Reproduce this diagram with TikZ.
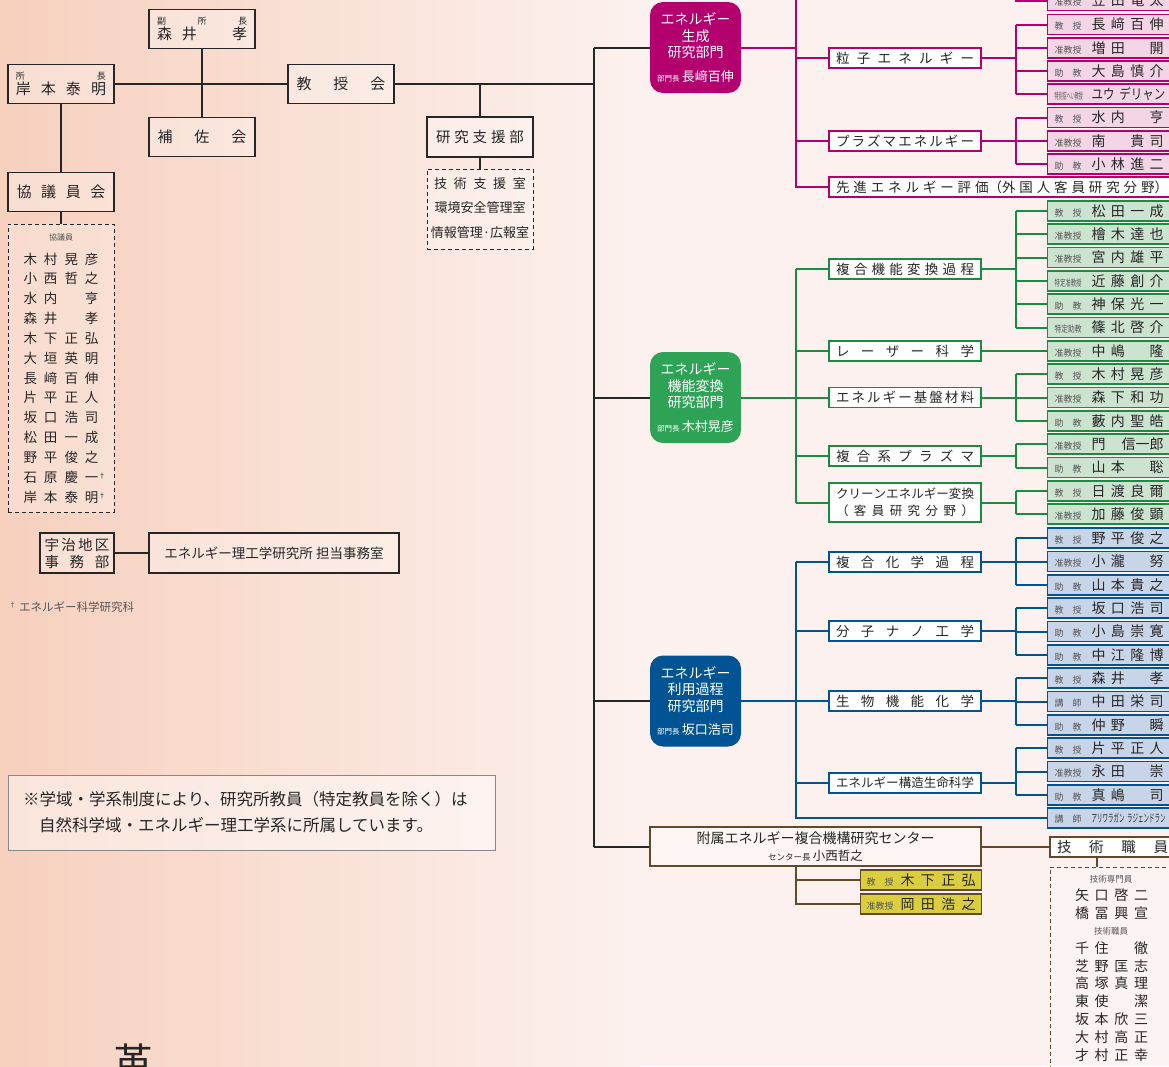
\documentclass[tikz,border=0pt]{standalone}
\usepackage{fontspec}
\setmainfont{Noto Sans CJK JP}
\usepackage{graphicx}
\definecolor{ink}{RGB}{38,38,38}
\definecolor{rg}{RGB}{85,85,85}
\definecolor{mg}{RGB}{180,0,110}
\definecolor{mgf}{RGB}{243,213,229}
\definecolor{gr}{RGB}{25,140,65}
\definecolor{grf}{RGB}{203,227,207}
\definecolor{grd}{RGB}{46,163,86}
\definecolor{bl}{RGB}{0,84,148}
\definecolor{blf}{RGB}{200,212,232}
\definecolor{br}{RGB}{100,72,42}
\definecolor{ye}{RGB}{218,205,62}
\definecolor{bgL}{RGB}{247,208,190}
\definecolor{bgR}{RGB}{252,241,238}
\newcommand{\spr}[2]{\makebox[#1][s]{\spaceskip=0pt plus 1fil\relax #2}}
\newcommand{\rolefont}{\fontsize{9}{9}\selectfont\color{rg}}
\newcommand{\namefont}{\fontsize{14}{14}\selectfont\color{ink}}
\newcommand{\member}[5]{\node[mbox=#3] (#1) at (1047,#2) {\makebox[128pt][l]{\hspace*{7pt}\makebox[30pt][l]{\rolefont #4}\hspace*{7pt}{\namefont\spr{72pt}{#5}}}};}
\tikzset{
  mbox/.style={draw=#1, fill=#1f, line width=1.2pt, inner sep=0pt, minimum height=20pt, anchor=west},
  ybox/.style={draw=br, fill=ye, line width=1.2pt, inner sep=0pt, minimum height=20pt, anchor=west},
  sbox/.style={draw=#1, fill=white, line width=1.6pt, inner sep=0pt, minimum width=152pt, minimum height=20pt, font=\fontsize{13.5}{16}\selectfont, text=ink},
  cline/.style={draw=#1, line width=2pt},
  dept/.style={fill=#1, rounded corners=13pt, minimum width=91pt, minimum height=91pt, inner sep=0pt, text=white, align=center, font=\fontsize{14}{16.5}\selectfont},
  bbox/.style={draw=ink, line width=1.8pt, fill=white, fill opacity=0.3, text opacity=1, inner sep=0pt, minimum width=106pt, minimum height=39pt, text=ink, align=center},
  dbox/.style={draw=#1, dash pattern=on 4pt off 3pt, line width=1pt, fill=white, fill opacity=0.25, inner sep=0pt},
  txt/.style={inner sep=0pt, text=ink},
}
\begin{document}
\begin{tikzpicture}[x=1pt,y=-1pt]
\useasboundingbox (0,0) rectangle (1169,1066);
% background
\shade[left color=bgL, right color=bgR] (0,0) rectangle (640,1066);
\fill[bgR] (640,0) rectangle (1169,1066);
% bus coordinates
\coordinate (T) at (594,0);
\coordinate (B1) at (796,0);
\coordinate (B2) at (1016,0);
\coordinate (mgtop) at (796,-30);
\coordinate (gx) at (1097,0);

% ---------- top-left ----------
\node[bbox, font=\fontsize{12}{15}\selectfont] (fuku) at (202,29) {{\fontsize{9}{10}\selectfont\spr{90pt}{副 所 長}}\\{\fontsize{15}{16}\selectfont\spr{90pt}{森 井 　 孝}}};
\node[bbox, font=\fontsize{12}{15}\selectfont] (shocho) at (61,84) {{\fontsize{9}{10}\selectfont\spr{90pt}{所 長}}\\{\fontsize{15}{16}\selectfont\spr{90pt}{岸 本 泰 明}}};
\node[bbox, font=\fontsize{15}{16}\selectfont] (kyojukai) at (341,84) {\spr{89pt}{教 授 会}};
\node[bbox, font=\fontsize{15}{16}\selectfont] (hosakai) at (202,137) {\spr{89pt}{補 佐 会}};
\node[bbox, font=\fontsize{15}{16}\selectfont] (kyogiinkai) at (61,192) {\spr{89pt}{協 議 員 会}};
\node[dbox=ink, minimum width=106pt, minimum height=288pt] (kglist) at (61,368) {};
\node[txt, font=\fontsize{8}{8}\selectfont, text=rg] (kghead) at (61,237) {協議員};
\foreach \n [count=\i from 0] in {木 村 晃 彦, 小 西 哲 之, 水 内 　 亨, 森 井 　 孝, 木 下 正 弘, 大 垣 英 明, 長 﨑 百 伸, 片 平 正 人, 坂 口 浩 司, 松 田 一 成, 野 平 俊 之, 石 原 慶 一\rlap{\raisebox{4pt}{\fontsize{7}{7}\selectfont †}}, 岸 本 泰 明\rlap{\raisebox{4pt}{\fontsize{7}{7}\selectfont †}}}
  \node[txt, font=\fontsize{13.5}{14}\selectfont] (kg\i) at (61,{259+19.83*\i}) {\spr{75pt}{\n}};

\node[bbox, minimum height=40pt, font=\fontsize{14.5}{16}\selectfont] (shien) at (480,137) {\spr{88pt}{研 究 支 援 部}};
\node[dbox=ink, minimum width=106pt, minimum height=80pt] (shienlist) at (480,209) {};
\node[txt, font=\fontsize{13}{14}\selectfont] (s1) at (480,184) {\spr{92pt}{技 術 支 援 室}};
\node[txt, font=\fontsize{13}{14}\selectfont] (s2) at (480,208) {環境安全管理室};
\node[txt, font=\fontsize{13}{14}\selectfont] (s3) at (480,233) {情報管理·広報室};

\node[bbox, minimum width=74pt, minimum height=40pt, font=\fontsize{14.5}{17}\selectfont] (uji) at (77,553) {\spr{65pt}{宇 治 地 区}\\\spr{65pt}{事 務 部}};
\node[bbox, minimum width=250pt, minimum height=40pt, font=\fontsize{13.5}{15}\selectfont] (tanto) at (274,553) {エネルギー理工学研究所 担当事務室};
\node[txt, anchor=west, text=rg] (fn) at (9,607) {\raisebox{4pt}{\fontsize{7}{7}\selectfont †}\hspace{3pt}{\fontsize{11.5}{12}\selectfont エネルギー科学研究科}};

\node[draw=rg!70, line width=1pt, fill=white, fill opacity=0.45, inner sep=0pt, minimum width=487pt, minimum height=75pt] (note) at (251.5,813) {};
\node[txt, anchor=west, font=\fontsize{16.5}{17}\selectfont] (n1) at (23,799) {※学域・学系制度により、研究所教員（特定教員を除く）は};
\node[txt, anchor=west, font=\fontsize{16.5}{17}\selectfont] (n2) at (39,825) {自然科学域・エネルギー理工学系に所属しています。};
\node[txt, font=\fontsize{40}{40}\selectfont] (kaku) at (133,1062) {革};

% ---------- departments ----------
\node[dept=mg] (gen) at (695.5,47.5) {エネルギー\\生成\\研究部門\\[7pt]{\fontsize{7.5}{8}\selectfont 部門長}\,{\fontsize{13}{14}\selectfont 長﨑百伸}};
\node[dept=grd] (kino) at (695.5,397.5) {エネルギー\\機能変換\\研究部門\\[7pt]{\fontsize{7.5}{8}\selectfont 部門長}\,{\fontsize{13}{14}\selectfont 木村晃彦}};
\node[dept=bl] (riyo) at (695.5,701) {エネルギー\\利用過程\\研究部門\\[7pt]{\fontsize{7.5}{8}\selectfont 部門長}\,{\fontsize{13}{14}\selectfont 坂口浩司}};

% ---------- sub labels ----------
\node[sbox=mg] (ryushi) at (905,58) {\spr{138pt}{粒 子 エ ネ ル ギ ー}};
\node[sbox=mg] (plasmaE) at (905,141) {\spr{138pt}{プ ラ ズ マ エ ネ ル ギ ー}};
\node[sbox=mg, minimum width=346pt] (senshin) at (1002,187) {\spr{332pt}{先 進 エ ネ ル ギ ー 評 価（外 国 人 客 員 研 究 分 野）}};
\node[sbox=gr] (fukugo) at (905,269) {\spr{138pt}{複 合 機 能 変 換 過 程}};
\node[sbox=gr] (laser) at (905,351) {\spr{138pt}{レ ー ザ ー 科 学}};
\node[sbox=gr] (kiban) at (905,397.5) {\spr{138pt}{エ ネ ル ギ ー 基 盤 材 料}};
\node[sbox=gr] (fplasma) at (905,456) {\spr{138pt}{複 合 系 プ ラ ズ マ}};
\node[sbox=gr, minimum height=39pt, align=center, font=\fontsize{12.5}{17}\selectfont] (green) at (905,502.5) {\spr{138pt}{ク リ ー ン エ ネ ル ギ ー 変 換}\\\spr{138pt}{（ 客 員 研 究 分 野 ）}};
\node[sbox=bl] (fkagaku) at (905,562) {\spr{138pt}{複 合 化 学 過 程}};
\node[sbox=bl] (bunshi) at (905,631) {\spr{138pt}{分 子 ナ ノ 工 学}};
\node[sbox=bl] (seibutsu) at (905,701) {\spr{138pt}{生 物 機 能 化 学}};
\node[sbox=bl, font=\fontsize{12.5}{14}\selectfont] (kozo) at (905,783) {\spr{138pt}{エ ネ ル ギ ー 構 造 生 命 科 学}};

% ---------- members ----------
\member{kasada}{0.5}{mg}{准教授}{笠 田 竜 太}
\member{nagasaki}{24.5}{mg}{教　授}{長 﨑 百 伸}
\member{masuda}{48}{mg}{准教授}{増 田 　 開}
\member{oshima}{71}{mg}{助　教}{大 島 慎 介}
\member{yu}{94}{mg}{\scalebox{0.45}[1]{特別招へい教授}}{\scalebox{0.82}[1]{ユウ\hspace{6pt}デリャン}}
\member{mizuuchi}{117.5}{mg}{教　授}{水 内 　 亨}
\member{minami}{141}{mg}{准教授}{南 　 貴 司}
\member{kobayashi}{164}{mg}{助　教}{小 林 進 二}

\member{matsuda}{211}{gr}{教　授}{松 田 一 成}
\member{hinoki}{234}{gr}{准教授}{檜 木 達 也}
\member{miyauchi}{257.5}{gr}{准教授}{宮 内 雄 平}
\member{kondo}{281}{gr}{\scalebox{0.6}[1]{特定准教授}}{近 藤 創 介}
\member{jinbo}{304}{gr}{助　教}{神 保 光 一}
\member{shinokita}{327.5}{gr}{\scalebox{0.75}[1]{特定助教}}{篠 北 啓 介}
\member{nakashima}{351}{gr}{准教授}{中 嶋 　 隆}
\member{kimura}{374}{gr}{教　授}{木 村 晃 彦}
\member{morishita}{397.5}{gr}{准教授}{森 下 和 功}
\member{yabuuchi}{421}{gr}{助　教}{藪 内 聖 皓}
\member{kado}{444}{gr}{准教授}{門 信一郎}
\member{yamamotoS}{467.5}{gr}{助　教}{山 本 　 聡}
\member{hiwatari}{491}{gr}{教　授}{日 渡 良 爾}
\member{kato}{514}{gr}{准教授}{加 藤 俊 顕}

\member{nohira}{538}{bl}{教　授}{野 平 俊 之}
\member{kotaki}{561.5}{bl}{准教授}{小 瀧 　 努}
\member{yamamotoT}{585}{bl}{助　教}{山 本 貴 之}
\member{sakaguchi}{608}{bl}{教　授}{坂 口 浩 司}
\member{kojima}{631.5}{bl}{助　教}{小 島 崇 寛}
\member{nakae}{655}{bl}{助　教}{中 江 隆 博}
\member{morii}{678}{bl}{教　授}{森 井 　 孝}
\member{nakata}{701.5}{bl}{講　師}{中 田 栄 司}
\member{nakano}{725}{bl}{助　教}{仲 野 　 瞬}
\member{katahira}{748}{bl}{教　授}{片 平 正 人}
\member{nagata}{771.5}{bl}{准教授}{永 田 　 崇}
\member{majima}{795}{bl}{助　教}{真 嶋 　 司}
\member{ari}{818}{bl}{講　師}{{\fontsize{11}{11}\selectfont\scalebox{0.5}[1]{アリワラガン\hspace{5pt}ラジェンドラン}}}

% ---------- center ----------
\node[draw=br, line width=2pt, fill=white, fill opacity=0.4, text opacity=1, inner sep=0pt, minimum width=331pt, minimum height=39pt, align=center, font=\fontsize{14}{17}\selectfont, text=ink] (center) at (815.5,846.5) {附属エネルギー複合機構研究センター\\{\fontsize{8.5}{9}\selectfont センター長}\,{\fontsize{12.5}{13}\selectfont 小西哲之}};
\node[ybox] (kinoshita) at (860,880) {\makebox[121pt][l]{\hspace*{6pt}\makebox[28pt][l]{\rolefont 教　授}\hspace*{6pt}{\namefont\spr{75pt}{木 下 正 弘}}}};
\node[ybox] (okada) at (860,904) {\makebox[121pt][l]{\hspace*{6pt}\makebox[28pt][l]{\rolefont 准教授}\hspace*{6pt}{\namefont\spr{75pt}{岡 田 浩 之}}}};
\node[draw=br, line width=2pt, fill=white, inner sep=0pt, minimum width=125pt, minimum height=20pt, font=\fontsize{14.5}{15}\selectfont, text=ink] (gijutsu) at (1112.5,846.5) {\spr{111pt}{技 術 職 員}};
\node[dbox=br, minimum width=125pt, minimum height=216pt] (glist) at (1112.5,975) {};
\node[txt, font=\fontsize{8.5}{9}\selectfont, text=rg] (gh1) at (1111,879) {技術専門員};
\node[txt, font=\fontsize{14}{14}\selectfont] (g1) at (1111.5,895) {\spr{73pt}{矢 口 啓 二}};
\node[txt, font=\fontsize{14}{14}\selectfont] (g2) at (1111.5,913) {\spr{73pt}{橋 冨 興 宣}};
\node[txt, font=\fontsize{8.5}{9}\selectfont, text=rg] (gh2) at (1111,931) {技術職員};
\foreach \n [count=\i from 0] in {千 住 　 徹, 芝 野 匡 志, 高 塚 真 理, 東 使 　 潔, 坂 本 欣 三, 大 村 高 正, 才 村 正 幸}
  \node[txt, font=\fontsize{14}{14}\selectfont] (gs\i) at (1111.5,{948+17.8*\i}) {\spr{73pt}{\n}};

% ---------- connectors: black ----------
\draw[cline=ink] (shocho.east) -- (kyojukai.west);
\draw[cline=ink] (fuku.south) -- (hosakai.north);
\draw[cline=ink] (shocho.south) -- (kyogiinkai.north);
\draw[cline=ink] (kyogiinkai.south) -- (kglist.north);
\draw[cline=ink] (kyojukai.east) -- (kyojukai.east -| T);
\draw[cline=ink] (kyojukai.east -| shien.north) -- (shien.north);
\draw[cline=ink] (shien.south) -- (shienlist.north);
\draw[cline=ink] (gen.west -| T) -- (center.west -| T);
\draw[cline=ink] (gen.west -| T) -- (gen.west);
\draw[cline=ink] (kino.west -| T) -- (kino.west);
\draw[cline=ink] (riyo.west -| T) -- (riyo.west);
\draw[cline=ink] (center.west -| T) -- (center.west);
\draw[cline=ink] (uji.east) -- (tanto.west);

% ---------- magenta ----------
\draw[cline=mg] (gen.east) -- (gen.east -| B1);
\draw[cline=mg] (mgtop) -- (senshin.west -| B1) -- (senshin.west);
\foreach \l in {ryushi,plasmaE} \draw[cline=mg] (\l.west -| B1) -- (\l.west);
\draw[cline=mg] (ryushi.east) -- (ryushi.east -| B2);
\draw[cline=mg] (plasmaE.east) -- (plasmaE.east -| B2);
\draw[cline=mg] (nagasaki.west -| B2) -- (yu.west -| B2);
\draw[cline=mg] (mizuuchi.west -| B2) -- (kobayashi.west -| B2);
\draw[cline=mg] (kasada.west) -- (kasada.west -| B2) -- ++(0,-40);
\foreach \m in {nagasaki,masuda,oshima,yu,mizuuchi,minami,kobayashi} \draw[cline=mg] (\m.west -| B2) -- (\m.west);

% ---------- green ----------
\draw[cline=gr] (kino.east) -- (kino.east -| B1);
\draw[cline=gr] (fukugo.west -| B1) -- (green.west -| B1);
\foreach \l in {fukugo,laser,kiban,fplasma,green} \draw[cline=gr] (\l.west -| B1) -- (\l.west);
\foreach \l in {fukugo,kiban,fplasma,green} \draw[cline=gr] (\l.east) -- (\l.east -| B2);
\draw[cline=gr] (laser.east) -- (nakashima.west);
\draw[cline=gr] (matsuda.west -| B2) -- (shinokita.west -| B2);
\draw[cline=gr] (kimura.west -| B2) -- (yabuuchi.west -| B2);
\draw[cline=gr] (kado.west -| B2) -- (yamamotoS.west -| B2);
\draw[cline=gr] (hiwatari.west -| B2) -- (kato.west -| B2);
\foreach \m in {matsuda,hinoki,miyauchi,kondo,jinbo,shinokita,kimura,morishita,yabuuchi,kado,yamamotoS,hiwatari,kato} \draw[cline=gr] (\m.west -| B2) -- (\m.west);

% ---------- blue ----------
\draw[cline=bl] (riyo.east) -- (riyo.east -| B1);
\draw[cline=bl] (fkagaku.west -| B1) -- (ari.west -| B1) -- (ari.west);
\foreach \l in {fkagaku,bunshi,seibutsu,kozo} \draw[cline=bl] (\l.west -| B1) -- (\l.west);
\foreach \l in {fkagaku,bunshi,seibutsu,kozo} \draw[cline=bl] (\l.east) -- (\l.east -| B2);
\draw[cline=bl] (nohira.west -| B2) -- (yamamotoT.west -| B2);
\draw[cline=bl] (sakaguchi.west -| B2) -- (nakae.west -| B2);
\draw[cline=bl] (morii.west -| B2) -- (nakano.west -| B2);
\draw[cline=bl] (katahira.west -| B2) -- (majima.west -| B2);
\foreach \m in {nohira,kotaki,yamamotoT,sakaguchi,kojima,nakae,morii,nakata,nakano,katahira,nagata,majima} \draw[cline=bl] (\m.west -| B2) -- (\m.west);

% ---------- brown ----------
\draw[cline=br] (center.east) -- (gijutsu.west);
\draw[cline=br] (center.south -| B1) -- (okada.west -| B1) -- (okada.west);
\draw[cline=br] (kinoshita.west -| B1) -- (kinoshita.west);
\draw[cline=br] (gijutsu.south -| gx) -- (glist.north -| gx);
\end{tikzpicture}
\end{document}
